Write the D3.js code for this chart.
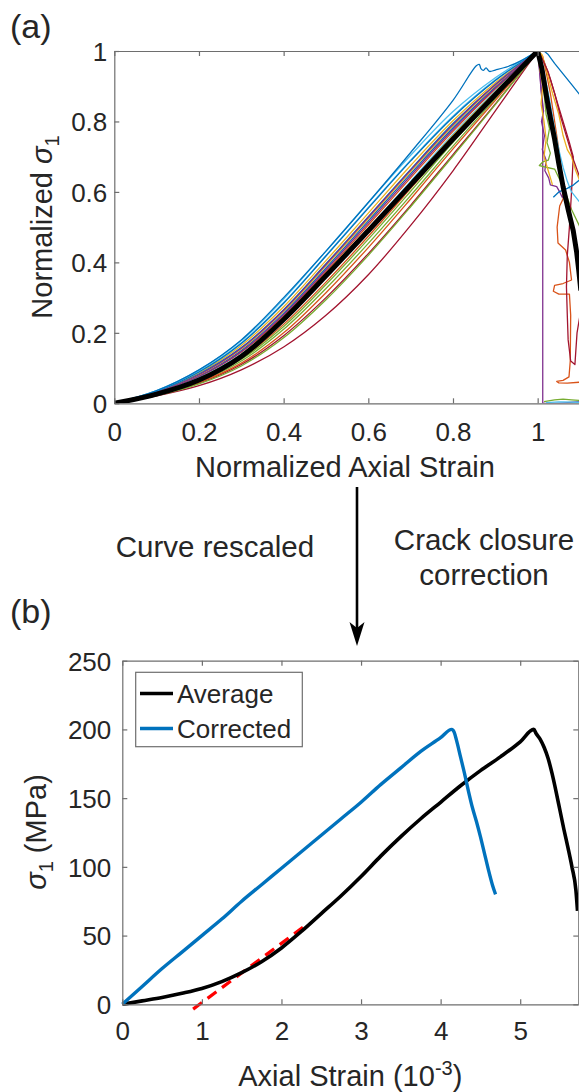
<!DOCTYPE html>
<html>
<head>
<meta charset="utf-8">
<script src="https://cdn.jsdelivr.net/npm/d3@7"></script>
<style>
  body { margin: 0; background: #fff; }
  svg { display: block; }
  text { font-family: "Liberation Sans", Arial, Helvetica, sans-serif; fill: #262626; }
</style>
</head>
<body>
<svg id="fig" width="579" height="1092"></svg>
<script>
// ---------------- data: panel (a), normalized loading curves ----------------
const normStrainGrid = [0, 0.1, 0.2, 0.3, 0.4, 0.5, 0.6, 0.7, 0.8, 0.9, 1.0];

// normalized stress of each specimen at the strain grid above (pre-peak)
const specimenLoading = [
  [0, 0.030, 0.078, 0.150, 0.256, 0.384, 0.518, 0.652, 0.782, 0.898, 1],
  [0, 0.029, 0.075, 0.145, 0.248, 0.374, 0.506, 0.640, 0.772, 0.892, 1],
  [0, 0.033, 0.086, 0.164, 0.274, 0.405, 0.540, 0.675, 0.802, 0.910, 1],
  [0, 0.027, 0.069, 0.135, 0.235, 0.358, 0.488, 0.622, 0.757, 0.882, 1],
  [0, 0.024, 0.061, 0.120, 0.210, 0.326, 0.454, 0.590, 0.730, 0.865, 1],
  [0, 0.035, 0.091, 0.172, 0.286, 0.420, 0.556, 0.690, 0.815, 0.918, 1],
  [0, 0.021, 0.050, 0.095, 0.160, 0.250, 0.365, 0.505, 0.660, 0.830, 1],
  [0, 0.032, 0.083, 0.158, 0.266, 0.396, 0.530, 0.664, 0.794, 0.905, 1],
  [0, 0.026, 0.066, 0.128, 0.224, 0.344, 0.474, 0.610, 0.748, 0.876, 1],
  [0, 0.031, 0.080, 0.154, 0.261, 0.390, 0.524, 0.658, 0.788, 0.902, 1],
  [0, 0.029, 0.076, 0.147, 0.252, 0.379, 0.512, 0.646, 0.777, 0.895, 1],
  [0, 0.025, 0.064, 0.125, 0.218, 0.337, 0.466, 0.602, 0.741, 0.871, 1],
  [0, 0.028, 0.072, 0.140, 0.241, 0.365, 0.496, 0.630, 0.764, 0.886, 1],
  [0, 0.023, 0.057, 0.110, 0.192, 0.300, 0.425, 0.562, 0.706, 0.850, 1],
  [0, 0.034, 0.089, 0.170, 0.284, 0.418, 0.554, 0.688, 0.812, 0.916, 1],
  [0, 0.023, 0.059, 0.114, 0.200, 0.314, 0.442, 0.580, 0.722, 0.860, 1],
  [0, 0.027, 0.070, 0.136, 0.236, 0.360, 0.490, 0.625, 0.760, 0.884, 1],
  [0, 0.031, 0.081, 0.156, 0.264, 0.394, 0.528, 0.662, 0.791, 0.904, 1],
  [0, 0.022, 0.055, 0.106, 0.186, 0.294, 0.420, 0.558, 0.702, 0.848, 1],
  [0, 0.036, 0.094, 0.178, 0.296, 0.432, 0.570, 0.704, 0.828, 0.924, 1]
];

// specimen with an early stress drop just before peak: [strain, stress]
const steppedSpecimen = [
  [0, 0], [0.1, 0.036], [0.2, 0.095], [0.3, 0.180], [0.4, 0.300], [0.5, 0.432],
  [0.6, 0.570], [0.7, 0.712], [0.8, 0.860], [0.855, 0.958], [0.862, 0.962],
  [0.866, 0.950], [0.872, 0.945], [0.878, 0.952], [0.886, 0.942], [0.9, 0.946],
  [0.93, 0.956], [0.96, 0.972], [1, 1]
];

// post-peak branches: [colour index, [strain, stress] pairs]
const postPeakBranches = [
  [0, [[1, 1], [1.015, 1.0], [1.025, 0.99], [1.04, 0.965], [1.06, 0.935], [1.08, 0.905], [1.1, 0.875]]],
  [1, [[1, 1], [1.012, 0.985], [1.02, 0.94], [1.03, 0.88], [1.04, 0.80], [1.05, 0.72], [1.058, 0.64],
       [1.06, 0.58], [1.052, 0.56], [1.046, 0.50], [1.048, 0.455], [1.066, 0.435], [1.075, 0.40],
       [1.08, 0.35], [1.06, 0.34], [1.04, 0.335], [1.037, 0.318], [1.05, 0.31], [1.075, 0.31],
       [1.078, 0.25], [1.077, 0.12], [1.074, 0.075], [1.06, 0.065], [1.045, 0.062], [1.05, 0.058],
       [1.07, 0.057], [1.1, 0.06]]],
  [3, [[1, 1], [1.004, 0.95], [1.008, 0.89], [1.012, 0.85], [1.012, 0.5], [1.012, 0.0], [1.05, 0.0], [1.1, 0.005]]],
  [3, [[1, 1], [1.006, 0.93], [1.01, 0.86], [1.014, 0.83], [1.009, 0.80], [1.016, 0.76], [1.011, 0.72],
       [1.02, 0.69], [1.017, 0.66], [1.026, 0.64], [1.03, 0.62], [1.045, 0.615], [1.052, 0.60],
       [1.058, 0.585], [1.062, 0.59], [1.068, 0.575]]],
  [4, [[1, 1], [1.008, 0.94], [1.015, 0.88], [1.02, 0.82], [1.028, 0.78], [1.022, 0.74], [1.03, 0.71],
       [1.025, 0.69], [1.012, 0.685], [1.004, 0.675], [1.02, 0.67], [1.04, 0.665], [1.05, 0.64],
       [1.065, 0.60], [1.08, 0.55], [1.1, 0.50]]],
  [6, [[1, 1], [1.015, 0.97], [1.03, 0.92], [1.045, 0.86], [1.06, 0.80], [1.075, 0.74], [1.084, 0.70],
       [1.08, 0.60], [1.075, 0.50], [1.07, 0.42], [1.068, 0.33], [1.07, 0.25], [1.072, 0.18],
       [1.078, 0.12], [1.088, 0.11], [1.093, 0.20], [1.1, 0.25]]],
  [5, [[1, 1], [1.01, 0.97], [1.02, 0.91], [1.03, 0.85], [1.04, 0.78], [1.05, 0.72], [1.06, 0.67],
       [1.07, 0.63], [1.08, 0.60], [1.1, 0.57]]],
  [0, [[1.037, 0.585], [1.05, 0.60], [1.07, 0.61], [1.085, 0.62], [1.1, 0.635]]],
  [2, [[1, 1], [1.01, 0.99], [1.02, 0.95], [1.035, 0.88], [1.05, 0.82], [1.06, 0.76], [1.07, 0.72],
       [1.08, 0.70], [1.09, 0.66], [1.1, 0.63]]],
  [6, [[1, 1], [1.01, 0.98], [1.025, 0.94], [1.04, 0.88], [1.055, 0.81], [1.07, 0.75], [1.085, 0.69], [1.1, 0.64]]],
  [2, [[1, 1], [1.005, 0.95], [1.012, 0.90], [1.008, 0.85], [1.015, 0.80], [1.02, 0.75], [1.015, 0.70],
       [1.025, 0.66], [1.035, 0.62]]],
  [4, [[1.015, 0.005], [1.04, 0.01], [1.06, 0.012], [1.08, 0.01], [1.1, 0.008]]],
  [5, [[1.02, 0.002], [1.05, 0.004], [1.1, 0.003]]]
];

// average normalized curve
const avgNormStress = [0, 0.026, 0.066, 0.133, 0.238, 0.362, 0.490, 0.620, 0.750, 0.876, 1];
const avgPostPeak = [
  [1, 1], [1.01, 0.95], [1.021, 0.87], [1.03, 0.81], [1.04, 0.75], [1.05, 0.68], [1.06, 0.615],
  [1.072, 0.55], [1.084, 0.49], [1.092, 0.43], [1.097, 0.378], [1.102, 0.32]
];

// ---------------- data: panel (b), rescaled curves ----------------
const averageStrain = [0, 0.25, 0.5, 0.75, 1, 1.25, 1.5, 1.75, 2, 2.25, 2.5, 2.75, 3, 3.25, 3.5,
  3.75, 4, 4.25, 4.5, 4.75, 5, 5.17, 5.2, 5.25, 5.3, 5.35, 5.4, 5.45, 5.5, 5.55, 5.6, 5.65, 5.7, 5.72];
const averageStress = [0, 2.5, 5, 8, 11.5, 16.5, 23, 31, 41, 53, 66, 79, 93, 108, 122,
  135, 147, 159, 170, 180, 191, 200, 197, 193, 187, 179, 168, 155, 141, 127, 114, 100, 83, 68];

const correctedStrain = [0, 0.25, 0.5, 0.75, 1, 1.25, 1.5, 1.75, 2, 2.25, 2.5, 2.75, 3, 3.25, 3.5,
  3.75, 4, 4.14, 4.17, 4.2, 4.25, 4.3, 4.35, 4.4, 4.45, 4.5, 4.55, 4.6, 4.65, 4.69];
const correctedStress = [0, 13, 26, 38, 50, 62, 75, 87, 99, 111, 123, 135, 147, 160, 172,
  184, 194, 200, 198, 192, 180, 168, 155, 143, 133, 122, 110, 98, 87, 80];

// linear fit used for the crack-closure correction
const closureFitStrain = [0.89, 2.27];
const closureFitStress = [-3.5, 56];

// axis ticks
const aTicks = [0, 0.2, 0.4, 0.6, 0.8, 1];
const bStrainTicks = [0, 1, 2, 3, 4, 5];
const bStressTicks = [0, 50, 100, 150, 200, 250];

const matlabColors = ["#0072BD", "#D95319", "#EDB120", "#7E2F8E", "#77AC30", "#4DBEEE", "#A2142F"];

// ---------------- drawing ----------------
const svg = d3.select("#fig");
const axisColor = "#6e6e6e";
const tickFont = 26, labelFont = 29;

function styleAxis(g) {
  g.selectAll(".domain").attr("stroke", axisColor).attr("stroke-width", 1.2);
  g.selectAll(".tick line").attr("stroke", axisColor).attr("stroke-width", 1.2);
  g.selectAll(".tick text").attr("font-size", tickFont).attr("fill", "#262626")
    .attr("font-family", '"Liberation Sans", Arial, sans-serif');
}

function drawBox(x, y, xTicks, yTicks, fmt, opts) {
  const [x0, x1] = x.range();
  const [y0, y1] = y.range();
  const bottom = svg.append("g").attr("transform", `translate(0,${y0})`)
    .call(d3.axisBottom(x).tickValues(xTicks).tickFormat(fmt).tickSize(-5).tickSizeOuter(0).tickPadding(0));
  bottom.selectAll(".tick text").attr("dy", 0).attr("y", opts.xLabelBase);
  styleAxis(bottom);
  const top = svg.append("g").attr("transform", `translate(0,${y1})`)
    .call(d3.axisTop(x).tickValues(xTicks).tickFormat("").tickSize(-5).tickSizeOuter(0));
  styleAxis(top);
  const left = svg.append("g").attr("transform", `translate(${x0},0)`)
    .call(d3.axisLeft(y).tickValues(yTicks).tickFormat(fmt).tickSize(-5).tickSizeOuter(0).tickPadding(opts.yPad));
  left.selectAll(".tick text").attr("dy", "0.36em");
  styleAxis(left);
  if (opts.rightAxis) {
    const right = svg.append("g").attr("transform", `translate(${x1},0)`)
      .call(d3.axisRight(y).tickValues(yTicks).tickFormat("").tickSize(-5).tickSizeOuter(0));
    styleAxis(right);
  }
}

// ----- panel (a) -----
const xA = d3.scaleLinear().domain([0, 1.1]).range([114.3, 580]);
const yA = d3.scaleLinear().domain([0, 1]).range([403.3, 51]);

svg.append("clipPath").attr("id", "clipA")
  .append("rect").attr("x", 114.3).attr("y", 51).attr("width", 580 - 114.3).attr("height", 403.3 - 51);

const plotA = svg.append("g").attr("clip-path", "url(#clipA)");
const smoothA = d3.line().x(d => xA(d[0])).y(d => yA(d[1])).curve(d3.curveCatmullRom.alpha(0.5));
const rawA = d3.line().x(d => xA(d[0])).y(d => yA(d[1]));

postPeakBranches.forEach(([c, pts]) => {
  plotA.append("path").attr("d", rawA(pts)).attr("fill", "none")
    .attr("stroke", matlabColors[c]).attr("stroke-width", 1.3).attr("stroke-linejoin", "round");
});
specimenLoading.forEach((ys, i) => {
  const pts = normStrainGrid.map((s, k) => [s, ys[k]]);
  plotA.append("path").attr("d", smoothA(pts)).attr("fill", "none")
    .attr("stroke", matlabColors[i % matlabColors.length]).attr("stroke-width", 1.3);
});
plotA.append("path").attr("d", smoothA(steppedSpecimen)).attr("fill", "none")
  .attr("stroke", matlabColors[0]).attr("stroke-width", 1.3).attr("stroke-linejoin", "round");

const avgA = normStrainGrid.map((s, k) => [s, avgNormStress[k]]);
plotA.append("path").attr("d", smoothA(avgA)).attr("fill", "none")
  .attr("stroke", "#000").attr("stroke-width", 5).attr("stroke-linecap", "round");
plotA.append("path").attr("d", rawA(avgPostPeak)).attr("fill", "none")
  .attr("stroke", "#000").attr("stroke-width", 5).attr("stroke-linejoin", "round");

drawBox(xA, yA, aTicks, aTicks, d3.format("~g"), { xLabelBase: 38, yPad: 7, rightAxis: false });

svg.append("text").attr("x", 345).attr("y", 477).attr("text-anchor", "middle")
  .attr("font-size", labelFont).text("Normalized Axial Strain");
const yLabA = svg.append("text").attr("transform", "translate(52,227) rotate(-90)")
  .attr("text-anchor", "middle").attr("font-size", labelFont);
yLabA.append("tspan").text("Normalized ");
yLabA.append("tspan").attr("font-style", "italic").text("σ");
yLabA.append("tspan").attr("font-size", 20).attr("dy", 7).text("1");

svg.append("text").attr("x", 10).attr("y", 38).attr("font-size", 34).text("(a)");

// ----- transition annotation -----
svg.append("line").attr("x1", 357).attr("x2", 357).attr("y1", 487).attr("y2", 630)
  .attr("stroke", "#000").attr("stroke-width", 2.6);
svg.append("path").attr("d", "M357,646 L349.5,622 L357,628 L364.5,622 Z").attr("fill", "#000");

svg.append("text").attr("x", 215).attr("y", 557).attr("text-anchor", "middle")
  .attr("font-size", 29.5).attr("fill", "#000").text("Curve rescaled");
svg.append("text").attr("x", 484).attr("y", 550).attr("text-anchor", "middle")
  .attr("font-size", 29.5).attr("fill", "#000").text("Crack closure");
svg.append("text").attr("x", 484).attr("y", 585).attr("text-anchor", "middle")
  .attr("font-size", 29.5).attr("fill", "#000").text("correction");

// ----- panel (b) -----
const xB = d3.scaleLinear().domain([0, 5.73]).range([122.3, 578.3]);
const yB = d3.scaleLinear().domain([0, 250]).range([1004.3, 660.7]);

svg.append("clipPath").attr("id", "clipB")
  .append("rect").attr("x", 122.3).attr("y", 660.7).attr("width", 578.3 - 122.3).attr("height", 1004.3 - 660.7 + 8);

const plotB = svg.append("g");
const lineB = d3.line().x(d => xB(d[0])).y(d => yB(d[1])).curve(d3.curveMonotoneX);

plotB.append("path")
  .attr("d", lineB(closureFitStrain.map((s, i) => [s, closureFitStress[i]])))
  .attr("fill", "none").attr("stroke", "#FF0000").attr("stroke-width", 3.2).attr("stroke-dasharray", "11,7");
plotB.append("path")
  .attr("d", lineB(averageStrain.map((s, i) => [s, averageStress[i]])))
  .attr("fill", "none").attr("stroke", "#000").attr("stroke-width", 3.6).attr("stroke-linejoin", "round")
  .attr("clip-path", "url(#clipB)");
plotB.append("path")
  .attr("d", lineB(correctedStrain.map((s, i) => [s, correctedStress[i]])))
  .attr("fill", "none").attr("stroke", "#0072BD").attr("stroke-width", 3.4).attr("stroke-linejoin", "round");

drawBox(xB, yB, bStrainTicks, bStressTicks, d3.format("d"), { xLabelBase: 36, yPad: 11, rightAxis: true });

// legend
const leg = svg.append("g");
leg.append("rect").attr("x", 135.7).attr("y", 672.3).attr("width", 166.6).attr("height", 74.4)
  .attr("fill", "#fff").attr("stroke", axisColor).attr("stroke-width", 1.2);
[["Average", "#000", 693.5], ["Corrected", "#0072BD", 728.5]].forEach(([name, col, yy]) => {
  leg.append("line").attr("x1", 140).attr("x2", 173).attr("y1", yy).attr("y2", yy)
    .attr("stroke", col).attr("stroke-width", 3.6);
  leg.append("text").attr("x", 177).attr("y", yy + 9.3).attr("font-size", 26).attr("fill", "#000").text(name);
});

const xLabB = svg.append("text").attr("x", 350.3).attr("y", 1086).attr("text-anchor", "middle")
  .attr("font-size", labelFont);
xLabB.append("tspan").text("Axial Strain (10");
xLabB.append("tspan").attr("font-size", 20).attr("dy", -11).text("-3");
xLabB.append("tspan").attr("dy", 11).text(")");

const yLabB = svg.append("text").attr("transform", "translate(46,832) rotate(-90)")
  .attr("text-anchor", "middle").attr("font-size", labelFont);
yLabB.append("tspan").attr("font-style", "italic").text("σ");
yLabB.append("tspan").attr("font-size", 20).attr("dy", 7).text("1");
yLabB.append("tspan").attr("dy", -7).text(" (MPa)");

svg.append("text").attr("x", 10).attr("y", 623).attr("font-size", 34).text("(b)");
</script>
</body>
</html>
